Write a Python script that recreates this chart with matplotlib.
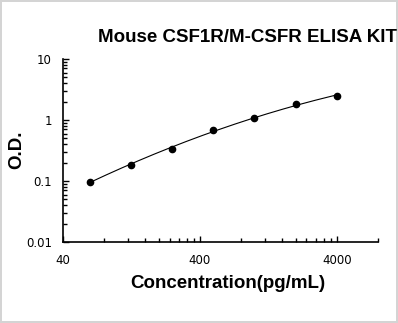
import numpy as np
import matplotlib
matplotlib.use("Agg")
import matplotlib.pyplot as plt
from matplotlib.ticker import FixedLocator, NullFormatter, FixedFormatter

concentration = [62.5, 125, 250, 500, 1000, 2000, 4000]
od = [0.098, 0.183, 0.335, 0.686, 1.08, 1.83, 2.47]
x_ticks = [40, 400, 4000]
x_tick_labels = ["40", "400", "4000"]
y_ticks = [0.01, 0.1, 1, 10]
y_tick_labels = ["0.01", "0.1", "1", "10"]
title = "Mouse CSF1R/M-CSFR ELISA KIT"
xlabel = "Concentration(pg/mL)"
ylabel = "O.D."

fig = plt.figure(figsize=(3.98, 3.23), dpi=100)
fig.patch.set_facecolor("white")
fig.patch.set_edgecolor("#d4d4d4")
fig.patch.set_linewidth(1.5)
ax = fig.add_axes([63/398, 1-242/323, (378-63)/398, (242-59)/323])

# fitted curve (quadratic in log-log space, derived from the data)
lx = np.log10(concentration)
ly = np.log10(od)
coef = np.polyfit(lx, ly, 2)
xs = np.linspace(lx[0], lx[-1], 200)
ax.plot(10**xs, 10**np.polyval(coef, xs), color="black", lw=0.8)
ax.plot(concentration, od, "o", color="black", ms=4.5)

ax.set_xscale("log")
ax.set_yscale("log")
ax.set_xlim(40, 8000)
ax.set_ylim(0.01, 10)

ax.xaxis.set_major_locator(FixedLocator(x_ticks))
ax.xaxis.set_major_formatter(FixedFormatter(x_tick_labels))
minor_x = [40*k for k in range(2, 10)] + [400*k for k in range(2, 10)] + [4000*k for k in range(2, 3)]
ax.xaxis.set_minor_locator(FixedLocator(minor_x))
ax.xaxis.set_minor_formatter(NullFormatter())
ax.yaxis.set_major_locator(FixedLocator(y_ticks))
ax.yaxis.set_major_formatter(FixedFormatter(y_tick_labels))
minor_y = [d*k for d in (0.01, 0.1, 1) for k in range(2, 10)]
ax.yaxis.set_minor_locator(FixedLocator(minor_y))
ax.yaxis.set_minor_formatter(NullFormatter())

for s in ("top", "right"):
    ax.spines[s].set_visible(False)
for s in ("left", "bottom"):
    ax.spines[s].set_linewidth(1.2)
ax.tick_params(which="major", direction="in", length=4, width=1, labelsize=8.5, pad=9)
ax.tick_params(which="minor", direction="in", length=3, width=1)
ax.tick_params(axis="y", which="major", pad=8)

fig.text(228/398, 1-284/323, xlabel, fontsize=13.5, fontweight="bold", family="Liberation Sans",
         ha="center", va="center")
fig.text(17/398, 1-150/323, ylabel, fontsize=13.5, fontweight="bold", family="Liberation Sans",
         rotation=90, ha="center", va="center")
fig.text(247/398, 1-38/323, title, fontsize=13.5, fontweight="bold", family="Liberation Sans",
         ha="center", va="center")

fig.savefig("out.png", dpi=100, facecolor=fig.get_facecolor(), edgecolor=fig.get_edgecolor())
